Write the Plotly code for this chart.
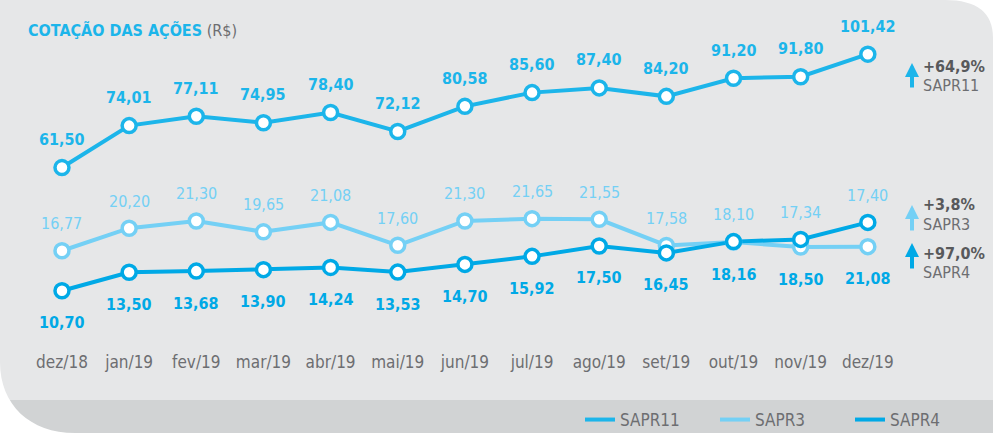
import math
import plotly.graph_objects as go

meses = ["dez/18", "jan/19", "fev/19", "mar/19", "abr/19", "mai/19", "jun/19",
         "jul/19", "ago/19", "set/19", "out/19", "nov/19", "dez/19"]
sapr11 = [61.50, 74.01, 77.11, 74.95, 78.40, 72.12, 80.58, 85.60, 87.40, 84.20, 91.20, 91.80, 101.42]
sapr3 = [16.77, 20.20, 21.30, 19.65, 21.08, 17.60, 21.30, 21.65, 21.55, 17.58, 18.10, 17.34, 17.40]
sapr4 = [10.70, 13.50, 13.68, 13.90, 14.24, 13.53, 14.70, 15.92, 17.50, 16.45, 18.16, 18.50, 21.08]
variacao = {"SAPR11": "+64,9%", "SAPR3": "+3,8%", "SAPR4": "+97,0%"}

C11 = "#1cb5ea"
C3 = "#74d0f5"
C4 = "#00a9e6"
CINZA = "#6d6e71"
FONTE = "DejaVu Sans Condensed, Roboto, sans-serif"

W, H, PLOT_H = 993, 433, 350


def px(x):
    return x / W


def py(y):
    return (PLOT_H - y) / PLOT_H


def br(v):
    return f"{v:.2f}".replace(".", ",")


fig = go.Figure()

series = [("SAPR11", sapr11, C11, "y"), ("SAPR3", sapr3, C3, "y2"), ("SAPR4", sapr4, C4, "y2")]
for nome, vals, cor, eixo in series:
    fig.add_trace(go.Scatter(x=meses, y=vals, name=nome, yaxis=eixo, mode="lines",
                             line=dict(color=cor, width=4), hoverinfo="skip"))
for nome, vals, cor, eixo in series:
    fig.add_trace(go.Scatter(x=meses, y=vals, yaxis=eixo, mode="markers", showlegend=False,
                             marker=dict(size=14, color="white", line=dict(color=cor, width=3.5)),
                             hoverinfo="skip"))

# rótulos de valor (eixo y é log: anotação usa log10)
for m, v in zip(meses, sapr11):
    fig.add_annotation(x=m, y=math.log10(v), yref="y", text=f"<b>{br(v)}</b>", showarrow=False,
                       yshift=28, font=dict(family=FONTE, size=16, color=C11))
# SAPR3 sempre acima e SAPR4 sempre abaixo, mesmo quando as linhas se cruzam
for m, v3, v4 in zip(meses, sapr3, sapr4):
    fig.add_annotation(x=m, y=max(v3, v4), yref="y2", text=br(v3), showarrow=False,
                       yshift=27, font=dict(family=FONTE, size=16, color=C3))
    fig.add_annotation(x=m, y=min(v3, v4), yref="y2", text=f"<b>{br(v4)}</b>", showarrow=False,
                       yshift=-32, font=dict(family=FONTE, size=16, color=C4))

# variação no período
lado = [("SAPR11", C11, 63, 89, 66), ("SAPR3", C3, 205, 232, 205), ("SAPR4", C4, 243, 270, 253)]
for nome, cor, topo, base, ytxt in lado:
    fig.add_annotation(x=px(912), y=py(topo), xref="paper", yref="paper", text="",
                       showarrow=True, ax=0, ay=base - topo, arrowhead=2, arrowsize=0.7,
                       arrowwidth=4, arrowcolor=cor)
    fig.add_annotation(x=px(921), y=py(ytxt), xref="paper", yref="paper", xanchor="left",
                       yanchor="middle", text=f"<b>{variacao[nome]}</b>", showarrow=False,
                       font=dict(family=FONTE, size=16, color="#58595b"))
    fig.add_annotation(x=px(921), y=py(ytxt + 19), xref="paper", yref="paper", xanchor="left",
                       yanchor="middle", text=nome, showarrow=False,
                       font=dict(family=FONTE, size=16, color=CINZA))

# título
fig.add_annotation(x=px(26), y=py(30), xref="paper", yref="paper", xanchor="left", yanchor="middle",
                   text=f"<b>COTAÇÃO DAS AÇÕES</b> <span style='color:{CINZA}'>(R$)</span>",
                   showarrow=False, font=dict(family=FONTE, size=16, color=C11))

# fundo
fig.add_shape(type="rect", xref="paper", yref="paper", x0=0, x1=1, y0=py(H), y1=py(0),
              fillcolor="#e6e7e8", line_width=0, layer="below")
fig.add_shape(type="rect", xref="paper", yref="paper", x0=0, x1=1, y0=py(H), y1=py(400),
              fillcolor="#d1d3d4", line_width=0, layer="below")
fig.add_shape(type="path", xref="paper", yref="paper", layer="below", fillcolor="white", line_width=0,
              path=f"M {px(945)},{py(0)} Q {px(993)},{py(0)} {px(993)},{py(38)} L {px(993)},{py(0)} Z")
fig.add_shape(type="path", xref="paper", yref="paper", layer="below", fillcolor="white", line_width=0,
              path=f"M 0,{py(362)} C 0,{py(405)} {px(30)},{py(433)} {px(75)},{py(433)} L 0,{py(433)} Z")

fig.update_layout(
    width=W, height=H,
    margin=dict(l=0, r=0, t=0, b=H - PLOT_H, autoexpand=False),
    paper_bgcolor="white",
    plot_bgcolor="rgba(0,0,0,0)",
    xaxis=dict(range=[-0.923, 13.864], showgrid=False, zeroline=False, showline=False,
               ticks="", tickangle=0, tickfont=dict(family=FONTE, size=17, color=CINZA)),
    # escala do infográfico: SAPR11 comprimida no topo (log), SAPR3/SAPR4 lineares
    yaxis=dict(type="log", range=[1.4394, 2.1099], visible=False),
    yaxis2=dict(range=[1.69, 54.88], overlaying="y", visible=False),
    legend=dict(orientation="h", x=px(580), y=py(420), xanchor="left", yanchor="middle",
                bgcolor="rgba(0,0,0,0)", font=dict(family=FONTE, size=17, color=CINZA),
                entrywidth=90, entrywidthmode="pixels"),
    showlegend=True,
)

fig.write_html("out.html", config={"displayModeBar": False},
               post_script="document.body.style.margin = '0';")
